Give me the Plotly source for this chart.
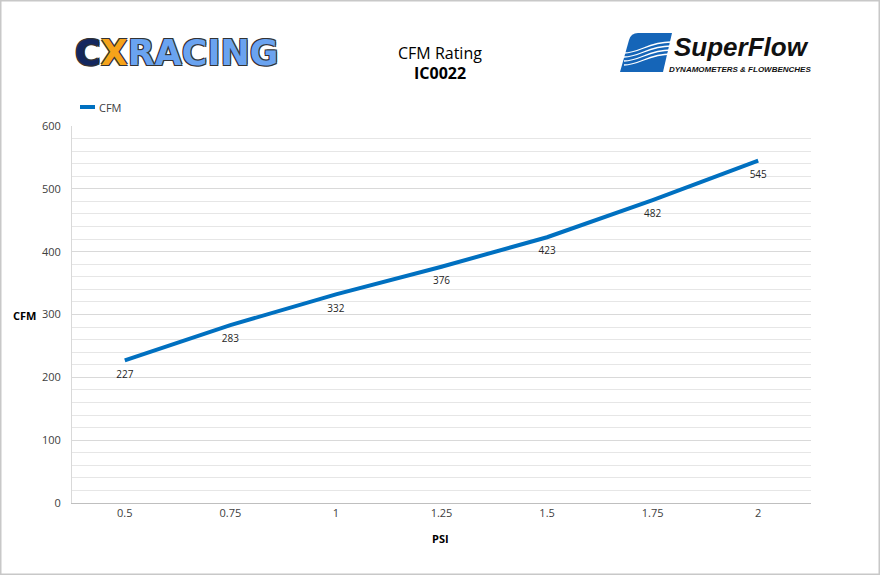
import plotly.graph_objects as go

psi_labels = ["0.5", "0.75", "1", "1.25", "1.5", "1.75", "2"]
cfm_values = [227, 283, 332, 376, 423, 482, 545]
y_ticks = [0, 100, 200, 300, 400, 500, 600]

W, H = 880, 575
L, R, T, B = 72, 69, 126, 72
PW, PH = W - L - R, H - T - B

def px(x):
    return (x - L) / PW

def py(y):
    return (H - B - y) / PH

FONT = "Open Sans"

fig = go.Figure()
fig.add_trace(go.Scatter(
    x=psi_labels, y=cfm_values, mode="lines+markers+text", name="CFM",
    line=dict(color="#0070C0", width=4),
    marker=dict(size=14, color="rgba(0,0,0,0)"),
    text=[str(v) for v in cfm_values], textposition="bottom center",
    textfont=dict(size=10, color="#262626", family=FONT),
    showlegend=False,
))

shapes = [
    # outer border
    dict(type="rect", xref="paper", yref="paper", x0=px(0.75), x1=px(W - 0.75),
         y0=py(H - 0.75), y1=py(0.75), line=dict(color="#c8c8c8", width=1.5)),
    # legend sample line
    dict(type="line", xref="paper", yref="paper", x0=px(80), x1=px(95),
         y0=py(107), y1=py(107), line=dict(color="#0070C0", width=4)),
    # SuperFlow blue mark
    dict(type="path", xref="paper", yref="paper",
         path=(f"M {px(638)},{py(33)} L {px(672)},{py(33)} L {px(663)},{py(72)} "
               f"L {px(620)},{py(72)} L {px(629)},{py(40)} Q {px(631)},{py(33)} {px(638)},{py(33)} Z"),
         fillcolor="#1565B8", line=dict(width=0)),
]
for yy in [42, 46, 50, 54]:
    shapes.append(dict(type="path", xref="paper", yref="paper",
        path=(f"M {px(624)},{py(yy+11)} C {px(640)},{py(yy+11)} {px(648)},{py(yy)} {px(671)},{py(yy)}"),
        line=dict(color="white", width=1.3)))
fig.update_layout(shapes=shapes)

def ann(text, x, y, size, family=FONT, color="#000", xanchor="center", **kw):
    return dict(text=text, x=px(x), y=py(y), xref="paper", yref="paper",
                xanchor=xanchor, yanchor="middle", showarrow=False,
                font=dict(size=size, family=family, color=color, **kw))

annotations = [
    ann("CFM Rating", 440, 53, 16),
    ann("<b>IC0022</b>", 440, 73, 16),
    ann("<b>CFM</b>", 24, 315, 11),
    ann("<b>PSI</b>", 440, 538, 11),
    ann("CFM", 97, 107, 11, color="#404040", xanchor="left"),
    ann("<b><span style='color:#13275f'>C</span><span style='color:#f5a31a'>X</span>"
        "<span style='color:#6aa3f0'>RACING</span></b>", 176, 53, 35, family="DejaVu Sans",
        shadow="-1px -1px 0 #333, 1px -1px 0 #333, -1px 1px 0 #333, 1px 1px 0 #333"),
    ann("<b><i>SuperFlow</i></b>", 741, 47, 26, family="Liberation Sans", color="#111"),
    ann("<b><i>DYNAMOMETERS &amp; FLOWBENCHES</i></b>", 740, 69, 8,
        family="Liberation Sans", color="#111"),
]

fig.update_layout(
    width=W, height=H, autosize=False,
    margin=dict(l=L, r=R, t=T, b=B),
    paper_bgcolor="white", plot_bgcolor="white",
    annotations=annotations,
    showlegend=False,
    xaxis=dict(type="category", range=[-0.5, 6.5], showgrid=False,
               showline=True, linecolor="#bfbfbf", linewidth=1,
               ticks="", tickfont=dict(size=11, family=FONT, color="#404040"),
               fixedrange=True),
    yaxis=dict(range=[0, 600], tickvals=y_ticks, showgrid=True, gridcolor="#d9d9d9",
               minor=dict(dtick=20, showgrid=True, gridcolor="#e6e6e6"),
               showline=True, linecolor="#d9d9d9", zeroline=False,
               ticks="", tickfont=dict(size=11, family=FONT, color="#404040"),
               ticklabelstandoff=8, fixedrange=True),
)

fig.write_html("out.html", config={"displayModeBar": False},
               post_script="document.body.style.margin='0';document.body.style.overflow='hidden';")
